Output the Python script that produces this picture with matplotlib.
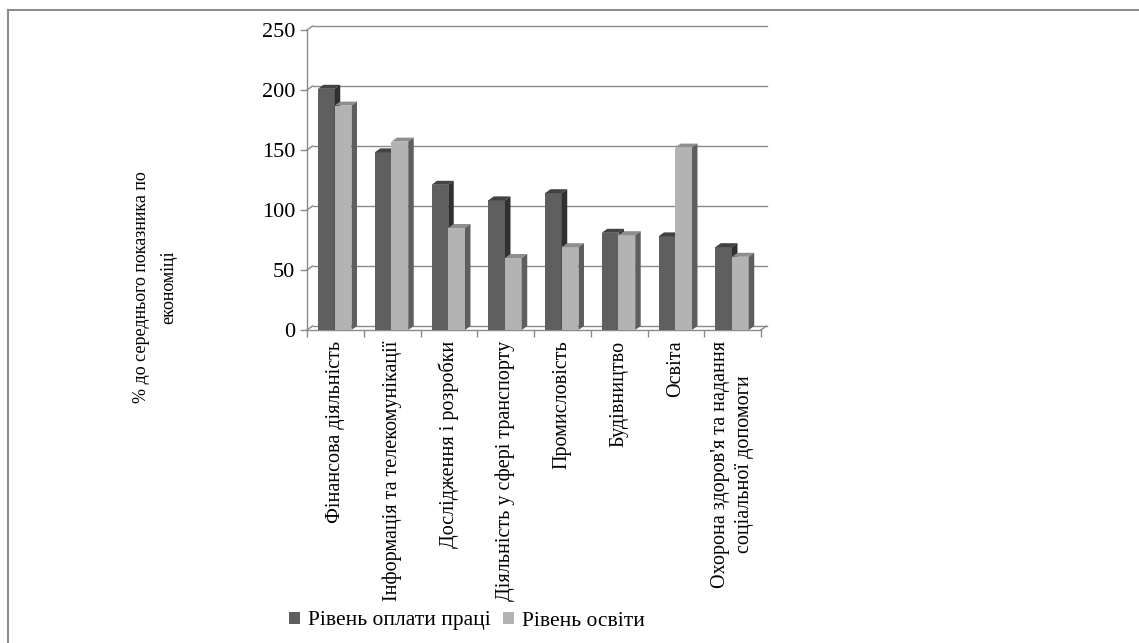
import matplotlib
matplotlib.use("Agg")
import matplotlib.pyplot as plt
from matplotlib.patches import Polygon, Patch
from matplotlib.lines import Line2D
import numpy as np

plt.rcParams["font.family"] = ["Liberation Serif", "DejaVu Serif"]

categories = [
    "Фінансова діяльність",
    "Інформація та телекомунікації",
    "Дослідження і розробки",
    "Діяльність у сфері транспорту",
    "Промисловість",
    "Будівництво",
    "Освіта",
    "Охорона здоров'я та надання\nсоціальної допомоги",
]
wage_level = [201, 148, 121, 108, 114, 81, 78, 69]
edu_level = [187, 157, 85, 60, 69, 79, 152, 61]
series_names = ["Рівень оплати праці", "Рівень освіти"]
y_ticks = [0, 50, 100, 150, 200, 250]

# (front, top, side) shades per series
shades = [
    ("#5f5f5f", "#424242", "#303030"),
    ("#b3b3b3", "#8e8e8e", "#5e5e5e"),
]
grid_col = "#8a8a8a"

W, H = 1139, 643
fig = plt.figure(figsize=(W / 100, H / 100), dpi=100)
ax = fig.add_axes([307 / W, (H - 330) / H, 454 / W, 300 / H])

n = len(categories)
ax.set_xlim(0, n)
ax.set_ylim(0, 250)

# 3d depth offset in data units
dx = 5.5 / (454 / n)
dy = 4 / 1.2

bar_w = 0.295
start = 11 / (454 / n)

# back wall grid lines + connector on side wall
for v in y_ticks:
    ax.plot([dx, n + dx], [v + dy, v + dy], color=grid_col, lw=1, zorder=1, clip_on=False)
    ax.plot([0, dx], [v, v + dy], color=grid_col, lw=1, zorder=1, clip_on=False)
# floor
ax.plot([0, n], [0, 0], color=grid_col, lw=1, zorder=1, clip_on=False)
ax.plot([n, n + dx], [0, dy], color=grid_col, lw=1, zorder=1, clip_on=False)

for s, vals in enumerate([wage_level, edu_level]):
    front, top, side = shades[s]
    x0 = np.arange(n) + start + s * bar_w
    z = 2 + s
    ax.bar(x0, vals, width=bar_w, align="edge", color=front, zorder=z, linewidth=0)
    for xi, h in zip(x0, vals):
        x1 = xi + bar_w
        ax.add_patch(Polygon([(xi, h), (x1, h), (x1 + dx, h + dy), (xi + dx, h + dy)],
                             closed=True, facecolor=top, edgecolor="none", zorder=z, clip_on=False))
        ax.add_patch(Polygon([(x1, 0), (x1, h), (x1 + dx, h + dy), (x1 + dx, dy)],
                             closed=True, facecolor=side, edgecolor="none", zorder=z, clip_on=False))

for sp in ["top", "right", "bottom"]:
    ax.spines[sp].set_visible(False)
ax.spines["left"].set_color(grid_col)
ax.spines["left"].set_linewidth(1)

ax.set_yticks(y_ticks)
ax.set_yticklabels([str(v) for v in y_ticks], fontsize=16)
ax.tick_params(axis="y", length=5, width=1, color=grid_col, pad=3.5)

ax.set_xticks(np.arange(n) + 0.5)
ax.set_xticklabels(categories, rotation=90, fontsize=14.5, linespacing=1.35)
ax.set_xticks(np.arange(n + 1), minor=True)
ax.tick_params(axis="x", which="major", length=0, pad=7.5)
ax.tick_params(axis="x", which="minor", length=5, width=1, color=grid_col)
for lab in ax.get_xticklabels():
    lab.set_multialignment("center")

fig.text(155 / W, (H - 287) / H, "% до середнього показника по\nекономіці",
         rotation=90, ha="center", va="center", multialignment="center",
         fontsize=13, linespacing=1.8)

handles = [Patch(facecolor=shades[i][0], edgecolor="none", label=series_names[i]) for i in range(2)]
fig.legend(handles=handles, loc="center", bbox_to_anchor=(467 / W, (H - 621) / H), ncol=2,
           frameon=False, fontsize=15.5, handlelength=0.5, handleheight=0.5,
           handletextpad=0.35, columnspacing=0.6)

# outer chart frame (only top and left edges fall inside the picture)
fig.add_artist(Line2D([8 / W, 1], [1 - 9.5 / H, 1 - 9.5 / H], color="#8c8c8c", lw=1.5))
fig.add_artist(Line2D([8 / W, 8 / W], [0, 1 - 9.5 / H], color="#8c8c8c", lw=1.5))

fig.savefig("out.png", dpi=100)
